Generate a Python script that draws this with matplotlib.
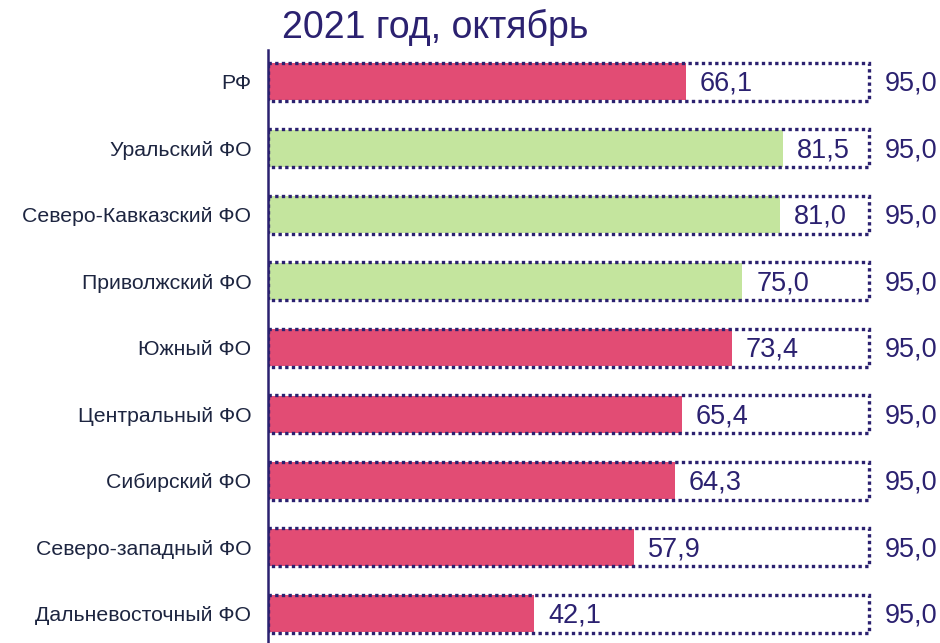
import matplotlib
matplotlib.use("Agg")
import matplotlib.pyplot as plt

categories = ["РФ", "Уральский ФО", "Северо-Кавказский ФО", "Приволжский ФО",
              "Южный ФО", "Центральный ФО", "Сибирский ФО",
              "Северо-западный ФО", "Дальневосточный ФО"]
values = [66.1, 81.5, 81.0, 75.0, 73.4, 65.4, 64.3, 57.9, 42.1]
targets = [95.0] * 9
is_green = [False, True, True, True, False, False, False, False, False]
title = "2021 год, октябрь"

plt.rcParams['font.family'] = ['Liberation Sans', 'DejaVu Sans']
navy = "#2B2170"
red = "#E24C74"
green = "#C4E59E"

W, H = 940, 643
fig = plt.figure(figsize=(W/100, H/100), dpi=100)
left_px, top_px = 268, 50
unit = 6.324
xmax = (W - left_px) / unit
ax = fig.add_axes([left_px/W, 0, 1 - left_px/W, 1 - top_px/H])
ax.set_xlim(0, xmax)
ax.set_ylim(8.437, -0.48)

ys = list(range(len(categories)))
# dotted target boxes
ax.barh(ys, targets, height=0.57, facecolor="none", edgecolor=navy,
        linewidth=2.4, linestyle=(0, (1.0, 1.0)), zorder=3)
colors = [green if g else red for g in is_green]
ax.barh(ys, values, height=0.555, color=colors, zorder=2)

for y, v, t in zip(ys, values, targets):
    ax.text(v + 2.2, y + 0.03, f"{v:.1f}".replace(".", ","), va="center", ha="left",
            fontsize=19.5, color=navy, zorder=4)
    ax.text(t + 2.5, y + 0.03, f"{t:.1f}".replace(".", ","), va="center", ha="left",
            fontsize=19.5, color=navy, zorder=4)

ax.set_yticks(ys)
ax.set_yticklabels(categories, fontsize=15.3, color="#1d2540")
ax.tick_params(axis="y", length=0, pad=12)
ax.set_xticks([])
for s in ["top", "right", "bottom"]:
    ax.spines[s].set_visible(False)
ax.spines["left"].set_color(navy)
ax.spines["left"].set_linewidth(1.8)

fig.text(435/W, 1 - 27/H, title, ha="center", va="center", fontsize=27, color=navy)

fig.savefig("out.png", dpi=100)
